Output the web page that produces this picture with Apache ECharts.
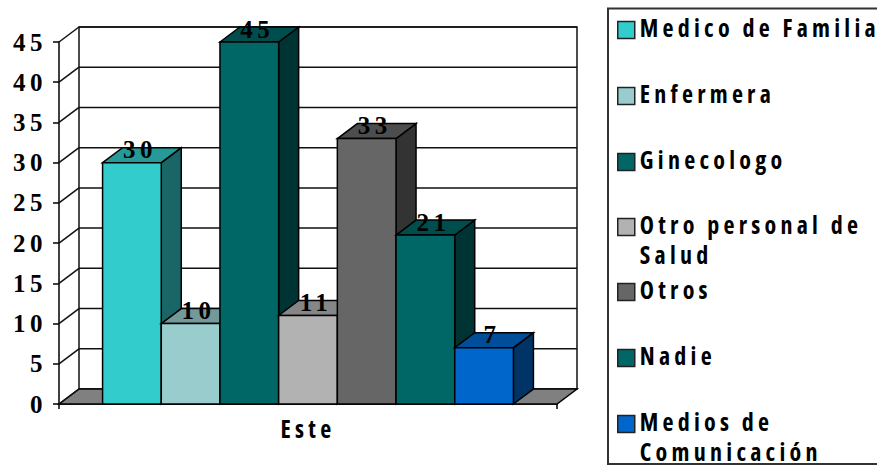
<!DOCTYPE html>
<html>
<head>
<meta charset="utf-8">
<style>
  html, body { margin: 0; padding: 0; background: #fff; }
  #chart { width: 877px; height: 466px; overflow: hidden; }
  #chart text { letter-spacing: 4.25px; }
  #chart text[style*="Serif"] { letter-spacing: 4.5px; }
  #chart text[style*="Open Sans"] { font-stretch: 75% !important; translate: 0 -2.5px; }
</style>
<script src="https://cdn.jsdelivr.net/npm/echarts@6/dist/echarts.min.js"></script>
</head>
<body>
<div id="chart"></div>
<script>
const categories = ['Este'];
const seriesNames = ['Medico de Familia', 'Enfermera', 'Ginecologo', 'Otro personal de\nSalud', 'Otros', 'Nadie', 'Medios de\nComunicación'];
const seriesValues = [30, 10, 45, 11, 33, 21, 7];
const seriesColors = ['#33CCCC', '#99CCCC', '#006666', '#B2B2B2', '#666666', '#006666', '#0066CC'];
const yTicks = [0, 5, 10, 15, 20, 25, 30, 35, 40, 45];
const legendCentres = [30, 96, 162, 227, 292, 358, 424];

const DEPTH_X = 20, DEPTH_Y = 15;      // oblique offset of the 3D walls and bars
const GROUP_SHARE = 0.825;             // share of the category band taken by the bars
const NARROW = '"Open Sans", sans-serif';
const SERIF = '"Liberation Serif", serif';
const LINE = '#111';

function shade(hex, f) {
  const n = parseInt(hex.slice(1), 16);
  const c = [n >> 16, (n >> 8) & 255, n & 255].map(v => Math.round(v * f));
  return `rgb(${c.join(',')})`;
}

function poly(points, fill) {
  return { type: 'polygon', shape: { points },
    style: { fill, stroke: '#000', lineWidth: 1.5, lineJoin: 'miter' } };
}

// Floor, back wall, side wall and their gridlines
function renderWalls(params, api) {
  const cs = params.coordSys;
  const x0 = cs.x, x1 = cs.x + cs.width;
  const y0 = api.coord([0, 0])[1];
  const yTop = api.coord([0, yTicks[yTicks.length - 1]])[1];
  const line = (a, b, c, d) => ({ type: 'line', shape: { x1: a, y1: b, x2: c, y2: d },
    style: { stroke: LINE, lineWidth: 1.5 } });
  const children = [
    { type: 'rect', shape: { x: x0 + DEPTH_X, y: yTop - DEPTH_Y, width: cs.width, height: y0 - yTop },
      style: { fill: '#fff', stroke: LINE, lineWidth: 1.5 } },
    poly([[x0, y0], [x0 + DEPTH_X, y0 - DEPTH_Y], [x1 + DEPTH_X, y0 - DEPTH_Y], [x1, y0]], '#808080')
  ];
  yTicks.forEach(t => {
    const y = api.coord([0, t])[1];
    children.push(line(x0, y, x0 + DEPTH_X, y - DEPTH_Y));
    if (t > 0) children.push(line(x0 + DEPTH_X, y - DEPTH_Y, x1 + DEPTH_X, y - DEPTH_Y));
  });
  return { type: 'group', children };
}

// One oblique bar with its value on top
function barRenderer(index) {
  return function (params, api) {
    const value = api.value(1);
    const band = api.size([1, 0])[0];
    const centre = api.coord([0, 0])[0];
    const w = band * GROUP_SHARE / seriesValues.length;
    const xl = centre - w * seriesValues.length / 2 + index * w;
    const xr = xl + w;
    const yb = api.coord([0, 0])[1];
    const yt = api.coord([0, value])[1];
    const color = seriesColors[index];
    return { type: 'group', children: [
      poly([[xr, yb], [xr + DEPTH_X, yb - DEPTH_Y], [xr + DEPTH_X, yt - DEPTH_Y], [xr, yt]], shade(color, 0.5)),
      poly([[xl, yt], [xl + DEPTH_X, yt - DEPTH_Y], [xr + DEPTH_X, yt - DEPTH_Y], [xr, yt]], shade(color, 0.75)),
      poly([[xl, yb], [xl, yt], [xr, yt], [xr, yb]], color),
      { type: 'text', z2: 10, style: {
          x: (xl + xr) / 2 + 8, y: yt - 13, text: String(value),
          textAlign: 'center', textVerticalAlign: 'middle',
          fontFamily: SERIF, fontSize: 25, fontWeight: 'bold', fill: '#000' } }
    ] };
  };
}

const wallSeries = {
  type: 'custom', silent: true, z: 1, clip: false,
  renderItem: renderWalls, data: [[0, 0]], encode: { x: 0, y: 1 }
};

const barSeries = seriesNames.map((name, i) => ({
  type: 'custom', name, z: 2 + i, clip: false,
  itemStyle: { color: seriesColors[i] },
  renderItem: barRenderer(i),
  data: [[0, seriesValues[i]]],
  encode: { x: 0, y: 1 }
}));

// One legend block per entry, keeping the swatches evenly spaced; a wrapped name
// gets a leading blank line so its swatch stays level with the first line of text.
const LEGEND_LINE = 30;
const legends = seriesNames.map((name, i) => {
  const lines = name.includes('\n') ? 3 : 1;
  return {
    data: [name], orient: 'vertical', left: 617,
    top: legendCentres[i] - lines * LEGEND_LINE / 2,
    padding: 0, itemWidth: 17, itemHeight: 17, icon: 'rect',
    selectedMode: false,
    itemStyle: { borderColor: '#222', borderWidth: 1.5 },
    formatter: n => (n.includes('\n') ? '\n' + n : n),
    textStyle: { fontFamily: NARROW, fontWeight: 'bold', fontSize: 24, color: '#000', lineHeight: LEGEND_LINE }
  };
});

const chart = echarts.init(document.getElementById('chart'), null, { renderer: 'svg' });
chart.setOption({
  animation: false,
  backgroundColor: '#fff',
  grid: { left: 59, right: 320, top: 42, bottom: 62, containLabel: false },
  xAxis: {
    type: 'category', data: categories,
    axisLine: { lineStyle: { color: '#000', width: 1.5 } },
    axisTick: { show: true, length: 5, lineStyle: { color: '#000', width: 1.5 } },
    axisLabel: { fontFamily: NARROW, fontWeight: 'bold', fontSize: 24, color: '#000', margin: 15 }
  },
  yAxis: {
    type: 'value', min: 0, max: 45, interval: 5,
    axisLine: { show: true, lineStyle: { color: '#000', width: 1.5 } },
    axisTick: { show: true, length: 6, lineStyle: { color: '#000', width: 1.5 } },
    splitLine: { show: false },
    axisLabel: { fontFamily: SERIF, fontWeight: 'bold', fontSize: 25, color: '#000', margin: 12 }
  },
  graphic: [{
    type: 'rect', z: -1, silent: true,
    shape: { x: 608, y: 8.5, width: 290, height: 455.5 },
    style: { fill: '#fff', stroke: '#333', lineWidth: 2 }
  }],
  legend: legends,
  series: [wallSeries, ...barSeries]
});
</script>
</body>
</html>
